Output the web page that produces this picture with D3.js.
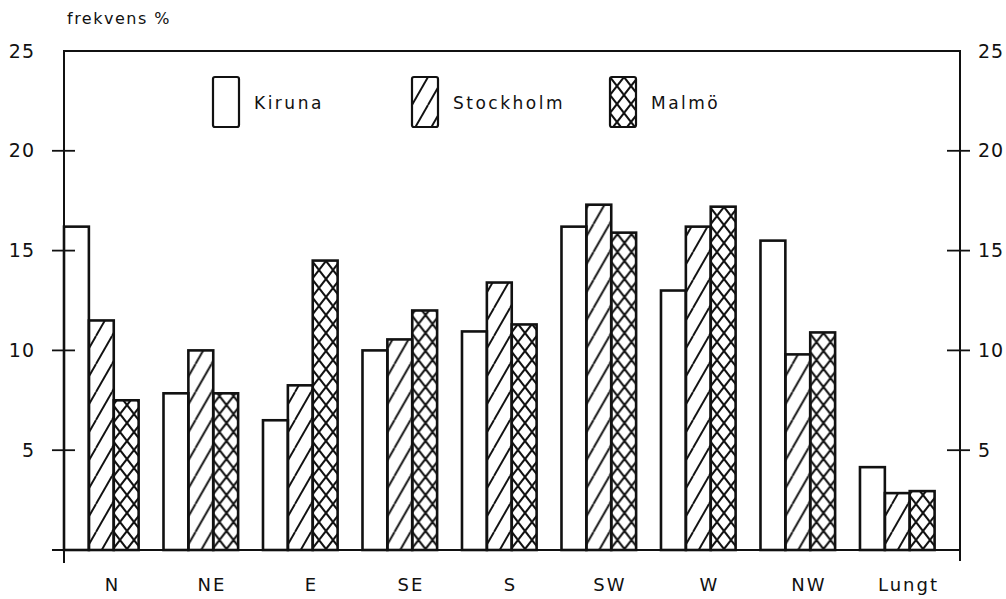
<!DOCTYPE html>
<html>
<head>
<meta charset="utf-8">
<script src="https://cdn.jsdelivr.net/npm/d3@7"></script>
<style>
  html, body { margin: 0; padding: 0; background: #fff; }
  svg { display: block; }
  text { font-family: "DejaVu Sans", "Liberation Sans", sans-serif; fill: #111; }
</style>
</head>
<body>
<svg id="chart" width="1006" height="599"></svg>
<script>
// Wind direction frequency (%) for three stations
const categories = ["N", "NE", "E", "SE", "S", "SW", "W", "NW", "Lungt"];
const seriesNames = ["Kiruna", "Stockholm", "Malmö"];
const kiruna    = [16.2, 7.85, 6.5, 10.0, 10.95, 16.2, 13.0, 15.5, 4.15];
const stockholm = [11.5, 10.0, 8.25, 10.55, 13.4, 17.3, 16.2, 9.8, 2.85];
const malmo     = [7.5, 7.85, 14.5, 12.0, 11.3, 15.9, 17.2, 10.9, 2.95];
const yTicks = [5, 10, 15, 20, 25];
const yTitle = "frekvens %";

(function () {
const series = [kiruna, stockholm, malmo];
const svg = d3.select("#chart");
const ink = "#111";

// Frame geometry
const fLeft = 64, fRight = 960, fTop = 51, fBottom = 550;

const y = d3.scaleLinear().domain([0, 25]).range([fBottom, fTop]);
const x = d3.scaleBand().domain(categories)
  .range([fLeft, fLeft + 870.6]).paddingInner(0.25).paddingOuter(0).align(0);
const xs = d3.scaleBand().domain(seriesNames).range([0, x.bandwidth()]);

// Hatch patterns
const defs = svg.append("defs");
const diag = defs.append("pattern").attr("id", "hatch-diag")
  .attr("patternUnits", "userSpaceOnUse").attr("width", 16).attr("height", 28);
[[0, 28, 16, 0], [-16, 28, 0, 0], [16, 28, 32, 0]].forEach(([x1, y1, x2, y2]) =>
  diag.append("line").attr("x1", x1).attr("y1", y1).attr("x2", x2).attr("y2", y2)
    .attr("stroke", ink).attr("stroke-width", 1.9));

const cross = defs.append("pattern").attr("id", "hatch-cross")
  .attr("patternUnits", "userSpaceOnUse").attr("width", 14).attr("height", 18);
[[0, 0, 14, 18], [14, 0, 0, 18]].forEach(([x1, y1, x2, y2]) =>
  cross.append("line").attr("x1", x1).attr("y1", y1).attr("x2", x2).attr("y2", y2)
    .attr("stroke", ink).attr("stroke-width", 2));

const fills = { "Kiruna": "#fff", "Stockholm": "url(#hatch-diag)", "Malmö": "url(#hatch-cross)" };

// Bars
const groups = svg.append("g").selectAll("g").data(categories).join("g")
  .attr("transform", d => `translate(${x(d)},0)`);
groups.selectAll("rect")
  .data((d, i) => seriesNames.map((s, k) => ({ s, v: series[k][i] })))
  .join("rect")
  .attr("x", d => xs(d.s))
  .attr("y", d => y(d.v))
  .attr("width", xs.bandwidth())
  .attr("height", d => y(0) - y(d.v))
  .attr("fill", d => fills[d.s])
  .attr("stroke", ink).attr("stroke-width", 2.6);

// Frame
const frame = svg.append("g").attr("stroke", ink).attr("stroke-width", 2).attr("fill", "none");
frame.append("path").attr("d", `M${fLeft},${fBottom + 13}V${fTop}H${fRight}V${fBottom + 11}`);
frame.append("line").attr("x1", fLeft - 12).attr("x2", fRight).attr("y1", fBottom).attr("y2", fBottom);

// Tick marks crossing both vertical axes
const innerTicks = yTicks.filter(t => t < 25);
svg.append("g").selectAll("line").data(innerTicks).join("line")
  .attr("x1", fLeft - 12).attr("x2", fLeft + 11)
  .attr("y1", d => y(d)).attr("y2", d => y(d))
  .attr("stroke", ink).attr("stroke-width", 1.8);
svg.append("g").selectAll("line").data(innerTicks).join("line")
  .attr("x1", fRight - 13).attr("x2", fRight + 10)
  .attr("y1", d => y(d)).attr("y2", d => y(d))
  .attr("stroke", ink).attr("stroke-width", 1.8);

// Tick labels via d3 axes
const axL = svg.append("g").attr("transform", `translate(${fLeft},0)`)
  .call(d3.axisLeft(y).tickValues(yTicks).tickSize(0).tickPadding(29).tickFormat(d3.format("d")));
const axR = svg.append("g").attr("transform", `translate(${fRight},0)`)
  .call(d3.axisRight(y).tickValues(yTicks).tickSize(0).tickPadding(18).tickFormat(d3.format("d")));
[axL, axR].forEach(a => {
  a.select(".domain").remove();
  a.selectAll("text").style("font-size", "19px").style("letter-spacing", "1px")
    .attr("fill", ink).attr("font-family", null);
});

// Category labels
svg.append("g").selectAll("text").data(categories).join("text")
  .attr("x", d => x(d) + x.bandwidth() * 0.65)
  .attr("y", 591)
  .attr("text-anchor", "middle")
  .style("font-size", "18px").style("letter-spacing", "2px")
  .text(d => d);

// Axis title
svg.append("text").attr("x", 67).attr("y", 24)
  .style("font-size", "16px").style("letter-spacing", "1.5px")
  .text(yTitle);

// Legend
const legendX = [213, 412, 610];
const leg = svg.append("g").selectAll("g").data(seriesNames).join("g")
  .attr("transform", (d, i) => `translate(${legendX[i]},77)`);
leg.append("rect").attr("width", 26).attr("height", 50).attr("rx", 2)
  .attr("fill", d => fills[d]).attr("stroke", ink).attr("stroke-width", 2.2);
leg.append("text").attr("x", 41).attr("y", 32)
  .style("font-size", "17px").style("letter-spacing", "2.5px")
  .text(d => d);
})();
</script>
</body>
</html>
